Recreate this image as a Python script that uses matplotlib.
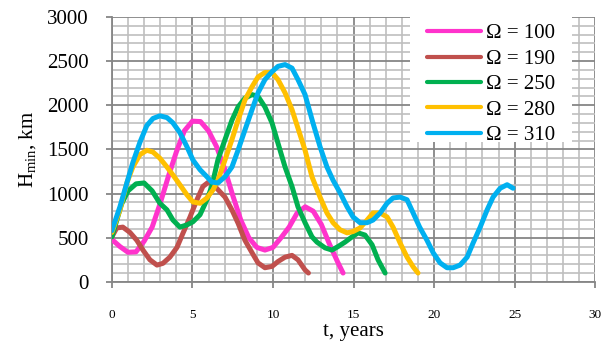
import matplotlib
matplotlib.use("Agg")
import matplotlib.pyplot as plt
from matplotlib.patches import Rectangle
from matplotlib.ticker import MultipleLocator

plt.rcParams["font.family"] = ["Liberation Serif", "DejaVu Serif"]
plt.rcParams["mathtext.fontset"] = "custom"
plt.rcParams["mathtext.rm"] = "Liberation Serif"
plt.rcParams["mathtext.it"] = "Liberation Serif:italic"

# Minimum altitude of the orbit versus time for several values of Omega
t_100 = [0, 0.5, 1.0, 1.5, 2.0, 2.5, 3.0, 3.5, 4.0, 4.5, 5.0, 5.5, 6.0, 6.5, 7.0,
         7.5, 8.0, 8.5, 9.0, 9.5, 10.0, 10.5, 11.0, 11.5, 12.0, 12.5, 13.0, 13.5,
         14.0, 14.35]
h_100 = [480, 400, 335, 340, 460, 620, 890, 1190, 1470, 1710, 1820, 1815, 1710,
         1530, 1280, 980, 700, 500, 390, 360, 390, 500, 620, 780, 850, 800, 650,
         430, 230, 100]

t_190 = [0.0, 0.3, 0.68, 1.12, 1.55, 1.93, 2.36, 2.8, 3.17, 3.6, 4.04, 4.41, 4.84,
         5.28, 5.65, 6.0, 6.4, 7.02, 7.45, 7.83, 8.26, 8.7, 9.07, 9.5, 9.94,
         10.31, 10.75, 11.18, 11.55, 11.99, 12.2]
h_190 = [510, 610, 620, 560, 470, 360, 250, 190, 210, 280, 390, 550, 730, 930,
         1080, 1130, 1080, 960, 815, 665, 470, 330, 215, 160, 175, 230, 280, 300,
         250, 135, 100]

t_250 = [0.0, 0.6, 1.0, 1.5, 2.0, 2.5, 2.98, 3.42, 3.79, 4.22, 4.66, 5.03, 5.47,
         5.9, 6.2, 6.58, 7.02, 7.45, 7.83, 8.26, 8.7, 9.07, 9.5, 9.94, 10.31,
         10.75, 11.18, 11.55, 11.99, 12.42, 12.73, 13.23, 13.66, 14.04, 14.47,
         14.91, 15.28, 15.71, 16.15, 16.52, 16.96]
h_250 = [510, 880, 1030, 1110, 1120, 1030, 890, 815, 700, 620, 645, 680, 760,
         930, 1080, 1380, 1610, 1830, 1980, 2080, 2120, 2100, 1980, 1800, 1570,
         1300, 1080, 850, 670, 510, 450, 385, 360, 400, 450, 510, 555, 530, 420,
         250, 100]

t_280 = [0.0, 0.5, 0.93, 1.3, 1.74, 2.17, 2.55, 2.98, 3.42, 3.79, 4.22, 4.66,
         5.03, 5.47, 5.9, 6.27, 6.58, 7.02, 7.45, 7.83, 8.26, 8.7, 9.07, 9.5,
         9.94, 10.31, 10.75, 11.18, 11.55, 11.99, 12.42, 12.92, 13.35, 13.73,
         14.16, 14.6, 14.97, 15.4, 15.84, 16.21, 16.65, 17.08, 17.45, 17.89,
         18.32, 18.7, 19.0]
h_280 = [560, 815, 1120, 1300, 1440, 1490, 1470, 1400, 1300, 1210, 1100, 985,
         905, 890, 950, 1040, 1150, 1380, 1610, 1830, 2060, 2210, 2320, 2370,
         2370, 2290, 2140, 1950, 1740, 1490, 1190, 960, 780, 670, 590, 555, 570,
         610, 700, 780, 780, 735, 620, 440, 280, 170, 100]

t_310 = [0.0, 0.5, 0.93, 1.3, 1.74, 2.17, 2.55, 2.98, 3.42, 3.79, 4.22, 4.66,
         5.03, 5.47, 5.9, 6.2, 6.58, 7.02, 7.45, 7.83, 8.26, 8.7, 9.07, 9.5,
         9.94, 10.31, 10.75, 11.18, 11.55, 11.99, 12.48, 12.92, 13.35, 13.73,
         14.16, 14.6, 14.97, 15.4, 15.84, 16.21, 16.65, 17.08, 17.45, 17.89,
         18.32, 18.7, 19.1, 19.56, 19.94, 20.37, 20.8, 21.18, 21.61, 22.05,
         22.42, 22.86, 23.29, 23.66, 24.1, 24.53, 24.9]
h_310 = [580, 850, 1120, 1350, 1580, 1770, 1850, 1880, 1860, 1800, 1690, 1530,
         1380, 1270, 1190, 1130, 1120, 1190, 1300, 1490, 1720, 1950, 2140, 2290,
         2380, 2440, 2460, 2420, 2290, 2120, 1800, 1530, 1300, 1150, 1010, 850,
         735, 670, 670, 700, 780, 890, 950, 960, 930, 780, 620, 470, 330, 215,
         160, 160, 190, 280, 440, 620, 815, 960, 1060, 1100, 1060]

series = [
    ("Ω = 100", t_100, h_100, "#FF33CC"),
    ("Ω = 190", t_190, h_190, "#C0504D"),
    ("Ω = 250", t_250, h_250, "#00B050"),
    ("Ω = 280", t_280, h_280, "#FFC000"),
    ("Ω = 310", t_310, h_310, "#00B0F0"),
]

fig = plt.figure(figsize=(6.08, 3.45), dpi=100)
ax = fig.add_axes([0.184, 0.183, 0.795, 0.768])

for label, t, h, color in series:
    ax.plot(t, h, color=color, lw=3.6, solid_capstyle="round",
            solid_joinstyle="round", label=label, zorder=3)

ax.set_xlim(0, 30)
ax.set_ylim(0, 3000)
ax.xaxis.set_major_locator(MultipleLocator(5))
ax.xaxis.set_minor_locator(MultipleLocator(1))
ax.yaxis.set_major_locator(MultipleLocator(500))
ax.yaxis.set_minor_locator(MultipleLocator(100))

ax.grid(which="minor", color="#BFBFBF", lw=1.2, zorder=0)
ax.grid(which="major", color="#868686", lw=1.3, zorder=1)
ax.set_axisbelow(True)

for side in ("top", "right"):
    ax.spines[side].set_visible(False)
for side in ("left", "bottom"):
    ax.spines[side].set_color("#868686")
    ax.spines[side].set_linewidth(1.3)

ax.tick_params(which="major", axis="y", length=4.5, width=1.3, color="#868686",
               labelsize=15, pad=12)
ax.tick_params(which="major", axis="x", length=4.5, width=1.3, color="#868686",
               labelsize=9.5, pad=15)
ax.tick_params(which="minor", length=0)

ax.set_xlabel("t, years", fontsize=15, labelpad=1)
ax.set_ylabel(r"H$_{\mathrm{min}}$, km", fontsize=15, labelpad=7)

# white legend panel in the upper right corner of the plot area
ax.add_patch(Rectangle((0.617, 0.528), 0.335, 0.472, transform=ax.transAxes,
                       facecolor="white", edgecolor="none", zorder=4))
leg = ax.legend(loc="upper left", bbox_to_anchor=(0.652, 0.974), fontsize=15,
                frameon=False, borderaxespad=0, borderpad=0, handlelength=2.6,
                handletextpad=0.25, labelspacing=0.28)
for line in leg.get_lines():
    line.set_linewidth(3)
leg.set_zorder(5)

fig.savefig("out.png", dpi=100)
